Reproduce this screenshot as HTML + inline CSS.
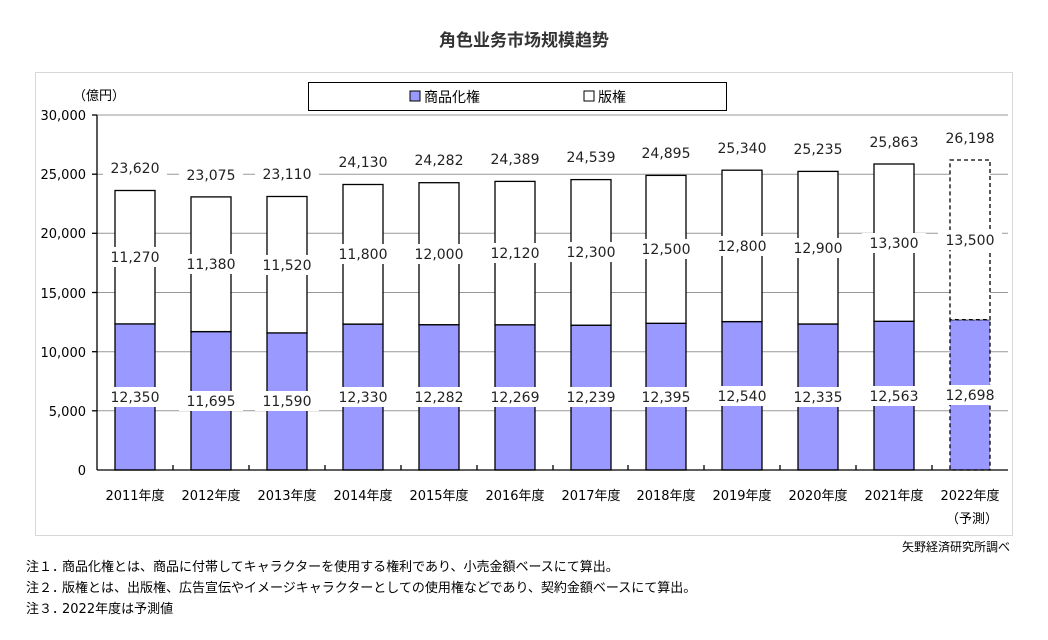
<!DOCTYPE html>
<html><head><meta charset="utf-8"><style>
body{margin:0;background:#fff;width:1048px;height:635px;overflow:hidden;}
</style></head><body>
<svg width="1048" height="635" xmlns="http://www.w3.org/2000/svg" font-family="DejaVu Sans, Noto Sans CJK JP, sans-serif">
<text x="524" y="46" text-anchor="middle" font-size="17" font-weight="bold" fill="#333" font-family="Liberation Sans, Noto Sans CJK JP, sans-serif">角色业务市场规模趋势</text>
<rect x="35.5" y="72.5" width="977" height="463" fill="#fff" stroke="#d8d8d8"/>
<rect x="308.5" y="82.5" width="418" height="28" fill="#fff" stroke="#000"/>
<rect x="410" y="91" width="10" height="10" fill="#9999ff" stroke="#000"/>
<text x="424" y="102" font-size="14" fill="#000">商品化権</text>
<rect x="584" y="91" width="10" height="10" fill="#fff" stroke="#000"/>
<text x="598" y="102" font-size="14" fill="#000">版権</text>
<text x="73" y="100" font-size="13" fill="#000">（億円）</text>
<g stroke="#999" stroke-width="1">
<line x1="97" y1="410.8" x2="1008" y2="410.8"/>
<line x1="97" y1="351.7" x2="1008" y2="351.7"/>
<line x1="97" y1="292.5" x2="1008" y2="292.5"/>
<line x1="97" y1="233.3" x2="1008" y2="233.3"/>
<line x1="97" y1="174.2" x2="1008" y2="174.2"/>
<line x1="97" y1="115" x2="1008" y2="115"/>
</g>
<g font-size="13" fill="#000" text-anchor="end">
<text x="86" y="475">0</text>
<text x="86" y="416">5,000</text>
<text x="86" y="357">10,000</text>
<text x="86" y="298">15,000</text>
<text x="86" y="238">20,000</text>
<text x="86" y="179">25,000</text>
<text x="86" y="120">30,000</text>
</g>
<g stroke="#000" stroke-width="1.3">
<line x1="97" y1="115" x2="97" y2="470"/>
<line x1="92" y1="115" x2="97" y2="115"/><line x1="92" y1="174.2" x2="97" y2="174.2"/><line x1="92" y1="233.3" x2="97" y2="233.3"/><line x1="92" y1="292.5" x2="97" y2="292.5"/><line x1="92" y1="351.7" x2="97" y2="351.7"/><line x1="92" y1="410.8" x2="97" y2="410.8"/>
</g>
<g stroke="#000" stroke-width="1.3">
<rect x="115" y="323.9" width="40" height="146.1" fill="#9999ff"/><rect x="115" y="190.5" width="40" height="133.4" fill="#fff"/>
<rect x="191" y="331.6" width="40" height="138.4" fill="#9999ff"/><rect x="191" y="196.9" width="40" height="134.7" fill="#fff"/>
<rect x="267" y="332.9" width="40" height="137.1" fill="#9999ff"/><rect x="267" y="196.5" width="40" height="136.4" fill="#fff"/>
<rect x="343" y="324.1" width="40" height="145.9" fill="#9999ff"/><rect x="343" y="184.5" width="40" height="139.6" fill="#fff"/>
<rect x="419" y="324.7" width="40" height="145.3" fill="#9999ff"/><rect x="419" y="182.7" width="40" height="142" fill="#fff"/>
<rect x="495" y="324.8" width="40" height="145.2" fill="#9999ff"/><rect x="495" y="181.4" width="40" height="143.4" fill="#fff"/>
<rect x="571" y="325.2" width="40" height="144.8" fill="#9999ff"/><rect x="571" y="179.6" width="40" height="145.6" fill="#fff"/>
<rect x="646" y="323.3" width="40" height="146.7" fill="#9999ff"/><rect x="646" y="175.4" width="40" height="147.9" fill="#fff"/>
<rect x="722" y="321.6" width="40" height="148.4" fill="#9999ff"/><rect x="722" y="170.2" width="40" height="151.4" fill="#fff"/>
<rect x="798" y="324" width="40" height="146" fill="#9999ff"/><rect x="798" y="171.4" width="40" height="152.6" fill="#fff"/>
<rect x="874" y="321.3" width="40" height="148.7" fill="#9999ff"/><rect x="874" y="164" width="40" height="157.3" fill="#fff"/>
<rect x="950" y="319.7" width="40" height="150.3" fill="#9999ff" stroke-dasharray="4,3"/><rect x="950" y="160" width="40" height="159.7" fill="#fff" stroke-dasharray="4,3"/>
</g>
<g stroke="#000" stroke-width="1.3">
<line x1="97" y1="470" x2="1008" y2="470"/>
<line x1="173" y1="465" x2="173" y2="470"/><line x1="249" y1="465" x2="249" y2="470"/><line x1="325" y1="465" x2="325" y2="470"/><line x1="401" y1="465" x2="401" y2="470"/><line x1="477" y1="465" x2="477" y2="470"/><line x1="553" y1="465" x2="553" y2="470"/><line x1="628" y1="465" x2="628" y2="470"/><line x1="704" y1="465" x2="704" y2="470"/><line x1="780" y1="465" x2="780" y2="470"/><line x1="856" y1="465" x2="856" y2="470"/><line x1="932" y1="465" x2="932" y2="470"/>
</g>
<g font-size="14" fill="#222" text-anchor="middle">
<g fill="#fff">
<rect x="103" y="387" width="64" height="20"/><rect x="179" y="391" width="64" height="20"/><rect x="255" y="391" width="64" height="20"/><rect x="331" y="387" width="64" height="20"/><rect x="407" y="387" width="64" height="20"/><rect x="483" y="387" width="64" height="20"/><rect x="559" y="387" width="64" height="20"/><rect x="634" y="387" width="64" height="20"/><rect x="710" y="386" width="64" height="20"/><rect x="786" y="387" width="64" height="20"/><rect x="862" y="386" width="64" height="20"/><rect x="938" y="385" width="64" height="20"/>
<rect x="103" y="247" width="64" height="20"/><rect x="179" y="254" width="64" height="20"/><rect x="255" y="255" width="64" height="20"/><rect x="331" y="244" width="64" height="20"/><rect x="407" y="244" width="64" height="20"/><rect x="483" y="243" width="64" height="20"/><rect x="559" y="242" width="64" height="20"/><rect x="634" y="239" width="64" height="20"/><rect x="710" y="236" width="64" height="20"/><rect x="786" y="238" width="64" height="20"/><rect x="862" y="233" width="64" height="20"/><rect x="938" y="230" width="64" height="20"/>
<rect x="103" y="158" width="64" height="20"/><rect x="179" y="165" width="64" height="20"/><rect x="255" y="164" width="64" height="20"/><rect x="331" y="152" width="64" height="20"/><rect x="407" y="150" width="64" height="20"/><rect x="483" y="149" width="64" height="20"/><rect x="559" y="147" width="64" height="20"/><rect x="634" y="143" width="64" height="20"/><rect x="710" y="138" width="64" height="20"/><rect x="786" y="139" width="64" height="20"/><rect x="862" y="132" width="64" height="20"/><rect x="938" y="128" width="64" height="20"/>
</g>
<text x="135" y="402">12,350</text><text x="211" y="406">11,695</text><text x="287" y="406">11,590</text><text x="363" y="402">12,330</text><text x="439" y="402">12,282</text><text x="515" y="402">12,269</text><text x="591" y="402">12,239</text><text x="666" y="402">12,395</text><text x="742" y="401">12,540</text><text x="818" y="402">12,335</text><text x="894" y="401">12,563</text><text x="970" y="400">12,698</text>
<text x="135" y="262">11,270</text><text x="211" y="269">11,380</text><text x="287" y="270">11,520</text><text x="363" y="259">11,800</text><text x="439" y="259">12,000</text><text x="515" y="258">12,120</text><text x="591" y="257">12,300</text><text x="666" y="254">12,500</text><text x="742" y="251">12,800</text><text x="818" y="253">12,900</text><text x="894" y="248">13,300</text><text x="970" y="245">13,500</text>
<text x="135" y="173">23,620</text><text x="211" y="180">23,075</text><text x="287" y="179">23,110</text><text x="363" y="167">24,130</text><text x="439" y="165">24,282</text><text x="515" y="164">24,389</text><text x="591" y="162">24,539</text><text x="666" y="158">24,895</text><text x="742" y="153">25,340</text><text x="818" y="154">25,235</text><text x="894" y="147">25,863</text><text x="970" y="143">26,198</text>
</g>
<g font-size="13" fill="#000" text-anchor="middle">
<text x="135" y="500">2011年度</text><text x="211" y="500">2012年度</text><text x="287" y="500">2013年度</text><text x="363" y="500">2014年度</text><text x="439" y="500">2015年度</text><text x="515" y="500">2016年度</text><text x="591" y="500">2017年度</text><text x="666" y="500">2018年度</text><text x="742" y="500">2019年度</text><text x="818" y="500">2020年度</text><text x="894" y="500">2021年度</text><text x="970" y="500">2022年度</text>
<text x="972" y="523">（予測）</text>
</g>
<text x="1010" y="551" font-size="12" text-anchor="end" fill="#000">矢野経済研究所調べ</text>
<g font-size="13" fill="#000">
<text x="26" y="571">注１．</text><text x="62" y="571">商品化権とは、商品に付帯してキャラクターを使用する権利であり、小売金額ベースにて算出。</text>
<text x="26" y="592">注２．</text><text x="62" y="592">版権とは、出版権、広告宣伝やイメージキャラクターとしての使用権などであり、契約金額ベースにて算出。</text>
<text x="26" y="613">注３．</text><text x="62" y="613">2022年度は予測値</text>
</g>
</svg>
</body></html>
